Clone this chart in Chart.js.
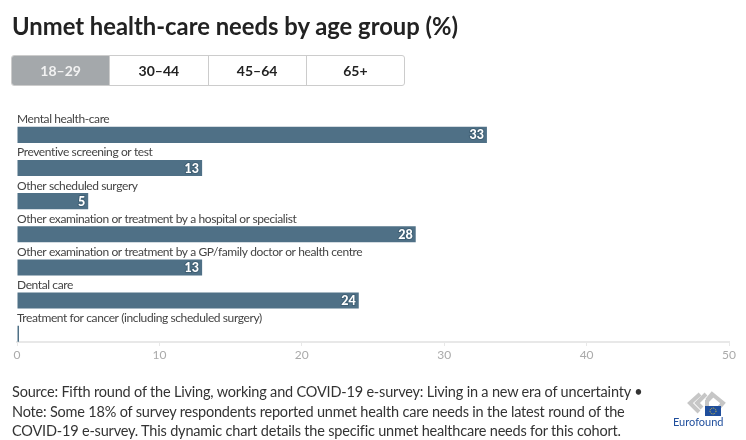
<!DOCTYPE html>
<html lang="en">
<head>
    <meta charset="UTF-8">
    <title>Unmet health-care needs by age group (%)</title>
    <script src="https://cdn.jsdelivr.net/npm/chart.js"></script>
    <style>
        html, body { margin: 0; padding: 0; background: #fff; }
        body { width: 746px; height: 440px; position: relative; overflow: hidden; font-family: Lato, sans-serif; color: #222; }
        #chart-wrap { position: absolute; left: 0; top: 0; width: 746px; height: 440px; }
        h1 { position: absolute; left: 12px; top: 11px; margin: 0; font-size: 23.8px; line-height: 30px; font-weight: 700; color: #222; white-space: nowrap; }
        #tabs { position: absolute; left: 11px; top: 55px; width: 392px; height: 29px; display: flex; border: 1px solid #ccc; border-radius: 3px; overflow: hidden; }
        #tabs div { flex: 1; text-align: center; line-height: 29px; font-size: 14px; font-weight: 700; border-left: 1px solid #ccc; }
        #tabs div:first-child { border-left: none; background: #a4a8ab; color: #f2f2f2; }
        #notes { position: absolute; left: 12px; top: 382px; margin: 0; font-size: 14.5px; line-height: 19.5px; letter-spacing: -0.19px; color: #333; white-space: nowrap; }
        #logo { position: absolute; left: 670px; top: 391px; width: 56px; height: 40px; }
        #logo span { position: absolute; left: 3px; top: 25px; font-size: 11px; line-height: 12px; color: #1f4e9c; }
    </style>
</head>
<body>
    <div id="chart-wrap"><canvas id="needs-chart" width="746" height="440"></canvas></div>
    <h1>Unmet health-care needs by age group (%)</h1>
    <div id="tabs"><div>18–29</div><div>30–44</div><div>45–64</div><div>65+</div></div>
    <p id="notes">Source: Fifth round of the Living, working and COVID-19 e-survey: Living in a new era of uncertainty •<br>Note: Some 18% of survey respondents reported unmet health care needs in the latest round of the<br>COVID-19 e-survey. This dynamic chart details the specific unmet healthcare needs for this cohort.</p>
    <div id="logo">
        <svg width="56" height="27" viewBox="0 0 56 27">
            <path d="M30 3 L20 12 L29 21 M36 3 L27 12 L32 17 M37 9 L42 3 L53 12 L47 19 M37 16 V10 L42 5" fill="none" stroke="#c6c6c6" stroke-width="4"/>
            <rect x="35" y="15" width="16" height="10" fill="#1f4e9c"/>
            <circle cx="43" cy="20" r="3" fill="none" stroke="#e6c93c" stroke-width="1" stroke-dasharray="1 1"/>
        </svg>
        <span>Eurofound</span>
    </div>

    <script>
        var categories = [
            'Mental health-care',
            'Preventive screening or test',
            'Other scheduled surgery',
            'Other examination or treatment by a hospital or specialist',
            'Other examination or treatment by a GP/family doctor or health centre',
            'Dental care',
            'Treatment for cancer (including scheduled surgery)'
        ];
        var values18to29 = [33, 13, 5, 28, 13, 24, 0];
        var xTicks = [0, 10, 20, 30, 40, 50];

        // Writes the category name over each bar and the value inside its end
        var barLabels = {
            id: 'barLabels',
            afterDatasetsDraw: function(chart) {
                var ctx = chart.ctx;
                var bars = chart.getDatasetMeta(1).data;
                ctx.save();
                bars.forEach(function(bar, i) {
                    var top = bar.y - bar.height / 2;
                    ctx.textAlign = 'left';
                    ctx.textBaseline = 'alphabetic';
                    ctx.fillStyle = '#444';
                    ctx.font = '12px Lato';
                    ctx.letterSpacing = '-0.4px';
                    ctx.fillText(categories[i], chart.chartArea.left, top - 3.5);
                    ctx.letterSpacing = '0px';
                    if (values18to29[i] > 0) {
                        ctx.textAlign = 'right';
                        ctx.textBaseline = 'middle';
                        ctx.font = '900 12.5px Lato';
                        ctx.lineWidth = 2;
                        ctx.strokeStyle = '#3f5f74';
                        ctx.strokeText(values18to29[i], bar.x - 3, bar.y + 0.5);
                        ctx.fillStyle = '#fff';
                        ctx.fillText(values18to29[i], bar.x - 3, bar.y + 0.5);
                    }
                });
                ctx.restore();
            }
        };

        new Chart(document.getElementById('needs-chart').getContext('2d'), {
            type: 'bar',
            data: {
                labels: categories,
                datasets: [
                    // empty first series keeps the top half of each band free for the name
                    { label: 'spacer', data: [], backgroundColor: 'transparent' },
                    // minBarLength is centred on the base and clipped, so 2 leaves a 1px mark for the zero bar
                    { label: '18–29', data: values18to29, backgroundColor: '#4f7086', minBarLength: 2 }
                ]
            },
            options: {
                indexAxis: 'y',
                responsive: false,
                animation: false,
                layout: { padding: { left: 17, right: 17, top: 110, bottom: 74 } },
                plugins: { legend: { display: false }, tooltip: { enabled: false } },
                datasets: { bar: { categoryPercentage: 1, barPercentage: 0.97 } },
                scales: {
                    y: { display: false },
                    x: {
                        min: 0,
                        max: 50,
                        afterBuildTicks: function(axis) {
                            axis.ticks = xTicks.map(function(v) { return { value: v }; });
                        },
                        afterFit: function(axis) { axis.height = 24; },
                        border: { color: '#e8e8e8', width: 2 },
                        grid: { drawOnChartArea: false, color: '#e8e8e8', tickLength: 4 },
                        ticks: { color: '#aaa', font: { family: 'Lato', size: 12 }, maxRotation: 0, padding: 2 }
                    }
                }
            },
            plugins: [barLabels]
        });
    </script>
</body>
</html>
